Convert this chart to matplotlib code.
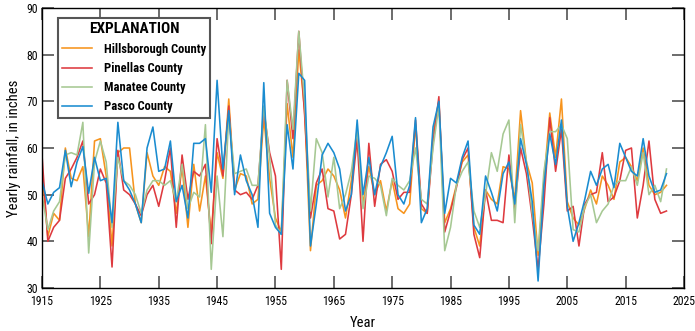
import matplotlib
matplotlib.use("Agg")
import matplotlib.pyplot as plt
from matplotlib import font_manager

available = {f.name for f in font_manager.fontManager.ttflist}
cands = ['Liberation Sans Narrow', 'DejaVu Sans Condensed', 'Roboto Condensed', 'Open Sans Condensed',
         'Noto Sans Condensed', 'Roboto', 'Liberation Sans']
chosen = [c for c in cands if c in available]
plt.rcParams['font.family'] = chosen[:1] + ['DejaVu Sans']

years = list(range(1915, 2023))

hillsborough = [55, 41, 46, 44.5, 60, 53.5, 53, 56, 41, 61.5, 62, 54, 39, 59, 60, 60, 48, 44, 59, 54,
                52, 56, 55, 46, 56, 43, 56.5, 46.5, 54, 41.5, 59, 53.5, 70.5, 51, 54.5, 54, 48, 49, 66.5, 53.5,
                45, 42, 69.5, 58, 81, 68, 38, 52, 53, 55.5, 54, 51, 45, 53, 62, 48, 56, 50, 53, 46.5,
                53, 47, 46, 48, 65, 47, 46, 63, 70, 44, 47, 52, 57, 58.5, 43, 39, 51, 49, 48, 56,
                55.5, 49, 68, 57, 52.5, 37, 53, 67.5, 58, 70.5, 48.5, 45, 43.5, 47, 51, 48, 54, 52, 49, 57,
                58, 56, 53, 60, 52, 50, 50.5, 52]

pinellas = [58.5, 40, 43, 44.5, 53.5, 55.5, 58, 61.5, 48, 50, 55.5, 52.5, 34.5, 59.5, 51, 50, 48, 45.5, 50, 52,
            47.5, 53, 60, 43, 58.5, 49, 55, 54, 56.5, 39.5, 62, 54, 69, 51, 50, 50.5, 49, 52, 68, 59,
            54, 34, 74.5, 62, 85, 67, 45, 52.5, 55.5, 47, 46.5, 40.5, 41.5, 50, 62, 40, 61, 47.5, 56.5, 57.5,
            55, 49, 50.5, 50.5, 66, 48, 46, 61, 71, 42, 46.5, 51.5, 57.5, 60, 41.5, 36.5, 51, 44.5, 44.5, 44,
            58.5, 47, 60, 54.5, 45, 34, 48, 66.5, 55, 64, 46.5, 47.5, 39, 48, 50, 50.5, 59, 48.5, 49.5, 53,
            59.5, 60, 45, 52, 61.5, 49, 46, 46.5]

manatee = [50, 42.5, 46.5, 48.5, 58.5, 59, 58.5, 65.5, 37.5, 57, 61.5, 57, 43, 58, 53, 52, 50, 46, 51, 53,
           53, 52, 53, 48.5, 56.5, 47, 50.5, 49.5, 65, 34, 54, 41, 67, 54.5, 55, 55.5, 52, 52, 69, 58,
           43.5, 41.5, 74.5, 64, 85, 70, 46.5, 62, 59, 49.5, 58, 47, 50, 55, 64, 47, 54, 53.5, 52, 45.5,
           53.5, 52, 51, 53, 60, 49, 48, 60, 69, 38, 43, 52, 55, 57, 46.5, 43, 50, 59, 55, 63,
           66, 44, 65, 57, 46, 38, 55, 63.5, 63.5, 65, 62, 42.5, 42, 47.5, 50, 44, 46.5, 48, 52, 53,
           53, 56, 52, 59, 50, 52, 48.5, 55.5]

pasco = [53, 48, 50.5, 51.5, 59.5, 51.7, 57, 60.3, 50.3, 58, 53, 53.5, 44, 65.5, 53, 51, 48, 44, 60, 64.5,
         55, 55.5, 61.5, 48.5, 52, 45, 61, 61, 62, 50.5, 74.5, 55.5, 68, 50, 58.5, 53, 50, 43, 74, 46,
         43, 41.5, 65, 55.5, 76, 74.5, 39, 48, 58.5, 61, 59, 55.5, 46.5, 50, 66, 50, 58, 50, 56, 59,
         62.5, 50, 48, 52, 66.5, 44, 47, 64.5, 70, 46, 53.5, 52.5, 58, 61.5, 43.5, 41.5, 54, 50.5, 46.5, 54.5,
         57, 48, 62, 56.5, 48.5, 31.5, 52, 63, 56.5, 66, 47.5, 40, 44, 49, 55, 52, 55.5, 56.5, 51.5, 61,
         58, 55, 54, 62, 54, 50.5, 51, 54.5]

x_ticks = list(range(1915, 2026, 10))
y_ticks = list(range(30, 91, 10))

series = [
    ("Hillsborough County", hillsborough, "#F7941D"),
    ("Pinellas County", pinellas, "#DE3A3F"),
    ("Manatee County", manatee, "#A6C893"),
    ("Pasco County", pasco, "#1A8CD0"),
]

fig = plt.figure(figsize=(6.95, 3.31), dpi=100)
ax = fig.add_axes([42/695, 1-288/331, 642/695, 280/331])

for name, vals, col in series:
    ax.plot(years, vals, color=col, lw=1.15, label=name)

ax.set_xlim(1915, 2025)
ax.set_ylim(30, 90)
ax.set_xticks(x_ticks)
ax.set_yticks(y_ticks)
ax.tick_params(direction='in', length=8.5, width=1.1, top=True, right=True,
               labelsize=8.5, color='#444444')
ax.tick_params(axis='x', pad=5)
ax.tick_params(axis='y', pad=3)
for s in ax.spines.values():
    s.set_linewidth(1.0)
ax.set_xlabel("Year", fontsize=10.5, labelpad=6)
ax.set_ylabel("Yearly rainfall, in inches", fontsize=10.5, labelpad=4)

leg = ax.legend(loc='upper left', bbox_to_anchor=(0.025, 0.964), borderaxespad=0,
                title="EXPLANATION", fancybox=False, framealpha=1, edgecolor='#555555',
                prop={'weight': 'bold', 'size': 9}, handlelength=2.4, handletextpad=0.9,
                labelspacing=0.5, borderpad=0.35)
leg.get_title().set_fontweight('bold')
leg.get_title().set_fontsize(11)
leg.get_frame().set_linewidth(1.5)

fig.savefig("out.png", dpi=100)
